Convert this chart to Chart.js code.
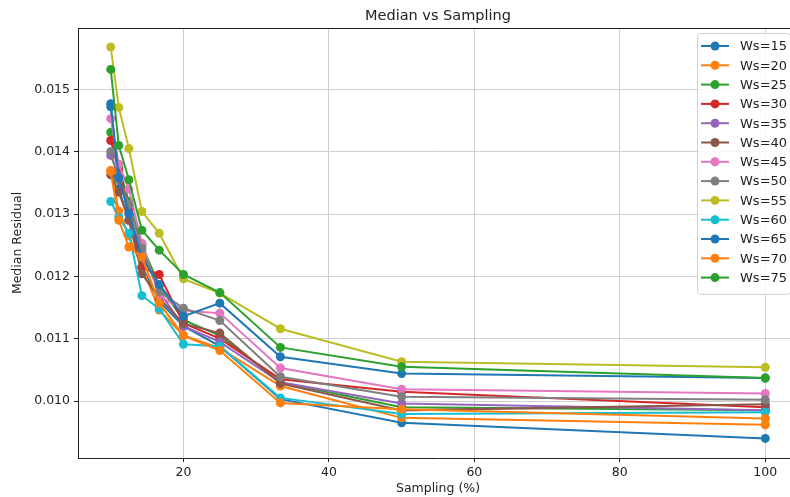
<!DOCTYPE html>
<html>
<head>
<meta charset="utf-8">
<script src="https://cdn.jsdelivr.net/npm/chart.js@4.4.1/dist/chart.umd.min.js"></script>
<style>
  html, body { margin: 0; padding: 0; background: #fff; overflow: hidden; }
  canvas { display: block; }
</style>
</head>
<body>
<canvas id="medianChart" width="810" height="497"></canvas>
<script>
// Sampling percentages (x) and median residual per window size
const sampling = [10, 11.11, 12.5, 14.29, 16.67, 20, 25, 33.33, 50, 100];

const ws15 = [0.01472, 0.01340, 0.01290, 0.01215, 0.01160, 0.01120, 0.01088, 0.01003, 0.00965, 0.00940];
const ws20 = [0.01370, 0.01305, 0.01265, 0.01215, 0.01146, 0.01105, 0.01085, 0.01024, 0.00973, 0.00962];
const ws25 = [0.01431, 0.01375, 0.01320, 0.01250, 0.01185, 0.01130, 0.01105, 0.01030, 0.00990, 0.00985];
const ws30 = [0.01418, 0.01370, 0.01310, 0.01214, 0.01203, 0.01125, 0.01100, 0.01035, 0.01015, 0.00990];
const ws35 = [0.01394, 0.01360, 0.01300, 0.01240, 0.01175, 0.01120, 0.01095, 0.01030, 0.00996, 0.00985];
const ws40 = [0.01363, 0.01335, 0.01290, 0.01204, 0.01165, 0.01124, 0.01109, 0.01028, 0.00985, 0.00995];
const ws45 = [0.01453, 0.01380, 0.01340, 0.01253, 0.01169, 0.01145, 0.01141, 0.01053, 0.01019, 0.01012];
const ws50 = [0.01400, 0.01355, 0.01315, 0.01245, 0.01175, 0.01149, 0.01129, 0.01039, 0.01007, 0.01002];
const ws55 = [0.01568, 0.01471, 0.01405, 0.01304, 0.01269, 0.01196, 0.01173, 0.01116, 0.01063, 0.01054];
const ws60 = [0.01320, 0.01295, 0.01269, 0.01169, 0.01148, 0.01091, 0.01088, 0.01005, 0.00979, 0.00982];
const ws65 = [0.01477, 0.01358, 0.01301, 0.01230, 0.01187, 0.01136, 0.01157, 0.01071, 0.01044, 0.01037];
const ws70 = [0.01368, 0.01290, 0.01247, 0.01231, 0.01157, 0.01105, 0.01081, 0.00997, 0.00987, 0.00972];
const ws75 = [0.01532, 0.01410, 0.01355, 0.01274, 0.01242, 0.01203, 0.01174, 0.01086, 0.01055, 0.01037];

const seriesLabels = ['Ws=15', 'Ws=20', 'Ws=25', 'Ws=30', 'Ws=35', 'Ws=40', 'Ws=45',
                      'Ws=50', 'Ws=55', 'Ws=60', 'Ws=65', 'Ws=70', 'Ws=75'];
const seriesValues = [ws15, ws20, ws25, ws30, ws35, ws40, ws45, ws50, ws55, ws60, ws65, ws70, ws75];

const xTicks = [20, 40, 60, 80, 100];
const yTicks = [0.010, 0.011, 0.012, 0.013, 0.014, 0.015];

// tab10 cycle, wraps after ten series
const palette = ['#1f77b4', '#ff7f0e', '#2ca02c', '#d62728', '#9467bd',
                 '#8c564b', '#e377c2', '#7f7f7f', '#bcbd22', '#17becf'];

const FONT = 'DejaVu Sans';

const datasets = seriesValues.map((vals, i) => {
  const c = palette[i % palette.length];
  return {
    label: seriesLabels[i],
    data: vals.map((v, j) => ({ x: sampling[j], y: v })),
    borderColor: c,
    backgroundColor: c,
    borderWidth: 2,
    pointRadius: 4.5,
    pointHoverRadius: 4.5,
    pointBorderWidth: 0,
    tension: 0,
    order: -i   // later series drawn on top
  };
});

// title, top/right frame and the boxed legend inside the plot
const decorations = {
  id: 'decorations',
  afterDraw(chart) {
    const ctx = chart.ctx;
    const area = chart.chartArea;
    ctx.save();

    ctx.strokeStyle = '#222';
    ctx.lineWidth = 1;
    ctx.beginPath();
    ctx.moveTo(area.left, area.top + 0.5);
    ctx.lineTo(area.right, area.top + 0.5);
    ctx.lineTo(area.right - 0.5, area.bottom);
    ctx.stroke();

    ctx.fillStyle = '#222';
    ctx.font = '14.5px "' + FONT + '"';
    ctx.textAlign = 'center';
    ctx.textBaseline = 'middle';
    ctx.fillText('Median vs Sampling', (area.left + area.right) / 2, 16);

    // legend
    const bx = 697, by = 33, bw = 93, rowH = 19.3;
    const bh = rowH * chart.data.datasets.length + 10;
    ctx.fillStyle = 'rgba(255,255,255,0.85)';
    ctx.strokeStyle = '#d0d0d0';
    ctx.beginPath();
    ctx.roundRect(bx + 0.5, by + 0.5, bw, bh, 3);
    ctx.fill();
    ctx.stroke();

    ctx.font = '13px "' + FONT + '"';
    ctx.textAlign = 'left';
    chart.data.datasets.forEach((ds, i) => {
      const y = by + 13 + i * rowH;
      ctx.strokeStyle = ds.borderColor;
      ctx.lineWidth = 2;
      ctx.beginPath();
      ctx.moveTo(701, y);
      ctx.lineTo(729, y);
      ctx.stroke();
      ctx.fillStyle = ds.borderColor;
      ctx.beginPath();
      ctx.arc(715, y, 4.5, 0, Math.PI * 2);
      ctx.fill();
      ctx.fillStyle = '#222';
      ctx.fillText(ds.label, 740, y + 1);
    });

    ctx.restore();
  }
};

new Chart(document.getElementById('medianChart'), {
  type: 'line',
  data: { datasets },
  options: {
    responsive: false,
    animation: false,
    layout: { padding: { top: 28, right: 12, left: 0, bottom: 0 } },
    plugins: {
      legend: { display: false },
      tooltip: { enabled: false }
    },
    scales: {
      x: {
        type: 'linear',
        min: 5.5,
        max: 104.5,
        afterBuildTicks: scale => { scale.ticks = xTicks.map(v => ({ value: v })); },
        afterFit: scale => { scale.height = 39; },
        ticks: {
          color: '#222',
          font: { family: FONT, size: 12.5 },
          padding: 3,
          maxRotation: 0
        },
        grid: { color: '#cfcfcf', lineWidth: 1, tickColor: '#222', tickLength: 4 },
        border: { color: '#222', width: 1 },
        title: {
          display: true,
          text: 'Sampling (%)',
          color: '#222',
          font: { family: FONT, size: 12.5 },
          padding: { top: 0, bottom: 0.5 }
        }
      },
      y: {
        min: 0.009086,
        max: 0.015984,
        afterBuildTicks: scale => { scale.ticks = yTicks.map(v => ({ value: v })); },
        afterFit: scale => { scale.width = 78; },
        ticks: {
          color: '#222',
          font: { family: FONT, size: 12.5 },
          padding: 4,
          callback: v => v.toFixed(3)
        },
        grid: { color: '#cfcfcf', lineWidth: 1, tickColor: '#222', tickLength: 4 },
        border: { color: '#222', width: 1 },
        title: {
          display: true,
          text: 'Median Residual',
          color: '#222',
          font: { family: FONT, size: 12.5 },
          padding: { top: 10.5, bottom: 0 }
        }
      }
    }
  },
  plugins: [decorations]
});
</script>
</body>
</html>
